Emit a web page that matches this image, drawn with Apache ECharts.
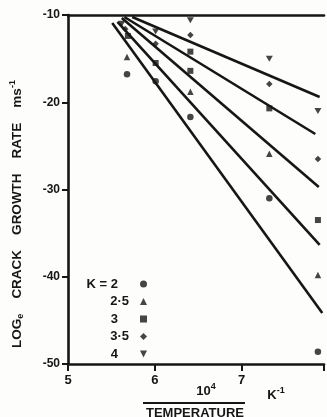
<!DOCTYPE html>
<html>
<head>
<meta charset="utf-8">
<script src="https://cdn.jsdelivr.net/npm/echarts@6/dist/echarts.min.js"></script>
<style>
  html, body { margin: 0; padding: 0; background: #fdfdfb; }
  #crack_chart { width: 327px; height: 417px; }
</style>
</head>
<body>
<div id="crack_chart"></div>
<script>
// values (x = 10^4/T, y = ln of growth rate)
var kNames = ["K = 2", "2·5", "3", "3·5", "4"];
var kSymbols = ["circle", "triangle", "rect", "diamond", "path://M0,0L10,0L5,10Z"];
var xTicks = [5, 6, 7];
var yTicks = [-10, -20, -30, -40, -50];

var k2Points = [[5.68, -16.8], [6.01, -17.6], [6.41, -21.7], [7.32, -31.0], [7.88, -48.6]];
var k25Points = [[5.68, -14.8], [6.41, -18.8], [7.32, -25.9], [7.88, -39.8]];
var k3Points = [[5.69, -12.4], [6.01, -15.5], [6.41, -14.2], [6.41, -16.4], [7.32, -20.7], [7.88, -33.5]];
var k35Points = [[5.66, -11.6], [6.01, -13.3], [6.41, -12.3], [7.32, -17.9], [7.88, -26.5]];
var k4Points = [[5.62, -11.0], [6.01, -11.9], [6.41, -10.6], [7.32, -15.0], [7.88, -21.0]];

// fitted straight lines (start, end)
var k2Fit = [[5.51, -10.92], [7.93, -44.15]];
var k25Fit = [[5.57, -10.8], [7.90, -36.36]];
var k3Fit = [[5.62, -10.34], [7.89, -29.71]];
var k35Fit = [[5.65, -10.23], [7.85, -23.64]];
var k4Fit = [[5.74, -10.23], [7.90, -19.40]];

var allPoints = [k2Points, k25Points, k3Points, k35Points, k4Points];
var allFits = [k2Fit, k25Fit, k3Fit, k35Fit, k4Fit];

var ink = "#161616";
var font = "Liberation Sans";

var chart = echarts.init(document.getElementById("crack_chart"));

var series = [];
allFits.forEach(function (fit, i) {
  series.push({
    type: "line",
    name: "fit" + i,
    data: fit,
    symbol: "none",
    silent: true,
    lineStyle: { color: ink, width: 2.6 },
    z: 2
  });
});
allPoints.forEach(function (pts, i) {
  series.push({
    type: "scatter",
    name: kNames[i],
    data: pts,
    symbol: kSymbols[i],
    symbolSize: i === 2 ? 6 : (i === 4 ? [7, 6] : 6.5),
    itemStyle: { color: ink },
    z: 3
  });
});

var pad = {};
kNames.forEach(function (n) { pad[n] = n.indexOf("·") >= 0 ? "{g| }" : "{w| }"; });

var options = {
  animation: false,
  backgroundColor: "#fdfdfb",
  grid: { left: 68, right: 0, top: 15, bottom: 53 },
  xAxis: [
    {
      type: "value",
      min: 5,
      max: 7.95,
      interval: 1,
      splitLine: { show: false },
      axisLine: { onZero: false, lineStyle: { color: ink, width: 2.6 } },
      axisTick: { show: true, length: 7, inside: false, lineStyle: { color: ink, width: 2 } },
      axisLabel: {
        margin: 10,
        color: ink,
        fontFamily: font,
        fontWeight: "bold",
        fontSize: 13,
        formatter: function (v) { return xTicks.indexOf(v) >= 0 ? String(v) : ""; }
      }
    },
    {
      type: "value",
      position: "top",
      min: 5,
      max: 7.95,
      splitLine: { show: false },
      axisLine: { onZero: false, lineStyle: { color: ink, width: 2.6 } },
      axisTick: { show: false },
      axisLabel: { show: false }
    }
  ],
  yAxis: {
    type: "value",
    min: -50,
    max: -10,
    interval: 10,
    splitLine: { show: false },
    axisLine: { onZero: false, lineStyle: { color: ink, width: 2.6 } },
    axisTick: { show: true, length: 6, lineStyle: { color: ink, width: 2 } },
    axisLabel: {
      margin: 8,
      color: ink,
      fontFamily: font,
      fontWeight: "bold",
      fontSize: 12,
      formatter: function (v) { return yTicks.indexOf(v) >= 0 ? String(v) : ""; }
    }
  },
  legend: {
    orient: "vertical",
    align: "right",
    right: 180,
    top: 277,
    padding: 0,
    itemGap: 3.5,
    itemWidth: 7,
    itemHeight: 7,
    data: kNames.map(function (n, i) { return { name: n, icon: kSymbols[i] }; }),
    selectedMode: false,
    formatter: function (n) { return n + pad[n]; },
    textStyle: {
      color: ink,
      fontFamily: font,
      fontWeight: "bold",
      fontSize: 13,
      lineHeight: 14,
      rich: { g: { width: 6 }, w: { width: 17 } }
    }
  },
  graphic: [
    {
      type: "text",
      x: 17,
      y: 214,
      rotation: Math.PI / 2,
      style: {
        text: "LOG{sub|e}    CRACK    GROWTH    RATE    ms{sup|-1}",
        align: "center",
        verticalAlign: "middle",
        fill: ink,
        font: "bold 13.5px " + font,
        rich: {
          sub: { fontSize: 9, fontWeight: "bold", fontFamily: font, padding: [8, 0, 0, 0] },
          sup: { fontSize: 9, fontWeight: "bold", fontFamily: font, padding: [0, 0, 8, 0] }
        }
      }
    },
    {
      type: "text",
      x: 206,
      y: 391,
      style: {
        text: "10{sup|4}",
        align: "center",
        verticalAlign: "middle",
        fill: ink,
        font: "bold 13px " + font,
        rich: { sup: { fontSize: 9, fontWeight: "bold", fontFamily: font, padding: [0, 0, 8, 0] } }
      }
    },
    {
      type: "line",
      shape: { x1: 143, y1: 403, x2: 245, y2: 403 },
      style: { stroke: ink, lineWidth: 2 }
    },
    {
      type: "text",
      x: 195,
      y: 413,
      style: {
        text: "TEMPERATURE",
        align: "center",
        verticalAlign: "middle",
        fill: ink,
        font: "bold 13px " + font
      }
    },
    {
      type: "text",
      x: 276,
      y: 395,
      style: {
        text: "K{sup|-1}",
        align: "center",
        verticalAlign: "middle",
        fill: ink,
        font: "bold 13px " + font,
        rich: { sup: { fontSize: 9, fontWeight: "bold", fontFamily: font, padding: [0, 0, 8, 0] } }
      }
    }
  ],
  series: series
};

chart.setOption(options);
</script>
</body>
</html>
